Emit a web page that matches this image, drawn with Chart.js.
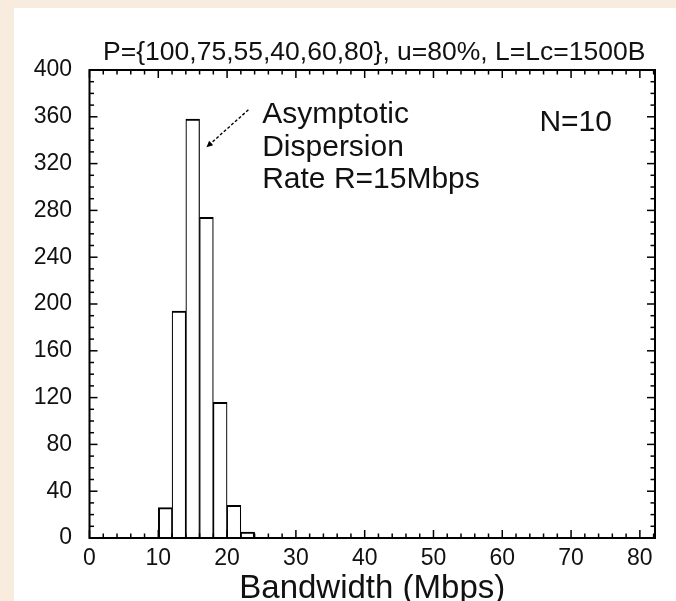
<!DOCTYPE html>
<html><head><meta charset="utf-8">
<script src="https://cdn.jsdelivr.net/npm/chart.js@4/dist/chart.umd.min.js"></script>
<style>
html,body{margin:0;padding:0;background:#F7ECDD;width:676px;height:601px;overflow:hidden}
#wrap{position:absolute;left:14px;top:8px;width:662px;height:593px;background:#fff}
canvas{display:block}
</style></head><body>
<div id="wrap"><canvas id="c" width="662" height="593"></canvas></div>
<script>
// ---- data ----
const binCenters = [11, 13, 15, 17, 19, 21, 23];          // Mbps, bins of width 2
const counts = [26, 194, 358, 274, 116, 28, 5];
const xTickValues = [0, 10, 20, 30, 40, 50, 60, 70, 80];
const yTickValues = [0, 40, 80, 120, 160, 200, 240, 280, 320, 360, 400];
const titleText = 'P={100,75,55,40,60,80}, u=80%, L=Lc=1500B';
const xAxisTitle = 'Bandwidth (Mbps)';
const noteLines = ['Asymptotic', 'Dispersion', 'Rate R=15Mbps'];
const nLabel = 'N=10';

// annotation anchors in data units
const arrowTail = {x: 23.1, y: 366};
const arrowTip = {x: 17.0, y: 334};
const noteAnchor = {x: 25.1, y: 354.5};
const nAnchor = {x: 65.4, y: 348};

const FONT = '"Liberation Sans", Arial, sans-serif';
const INK = '#111';

const decor = {
  id: 'decor',
  afterDatasetsDraw(chart) {
    const {ctx, chartArea: a, scales: {x, y}} = chart;
    ctx.save();
    ctx.strokeStyle = '#000';
    ctx.lineCap = 'butt';
    // frame
    ctx.lineWidth = 2;
    ctx.strokeRect(a.left, a.top, a.right - a.left, a.bottom - a.top);
    // ticks
    ctx.lineWidth = 1.5;
    const seg = (x1, y1, x2, y2) => { ctx.beginPath(); ctx.moveTo(x1, y1); ctx.lineTo(x2, y2); ctx.stroke(); };
    for (let v = 0; v <= 400; v += 10) {
      const py = y.getPixelForValue(v);
      const len = v % 40 === 0 ? 8 : 4.5;
      seg(a.left, py, a.left + len, py);
      seg(a.right, py, a.right - len, py);
    }
    for (let v = 0; v <= x.max; v += 2) {
      const px = x.getPixelForValue(v);
      const len = v % 10 === 0 ? 8 : 4.5;
      seg(px, a.bottom, px, a.bottom - len);
      seg(px, a.top, px, a.top + len);
    }
    // title
    ctx.fillStyle = INK;
    ctx.font = '26.5px ' + FONT;
    ctx.textAlign = 'center';
    ctx.textBaseline = 'alphabetic';
    ctx.fillText(titleText, (a.left + a.right) / 2 + 2, a.top - 10);
    // notes
    ctx.textAlign = 'left';
    ctx.font = '30px ' + FONT;
    const nx = x.getPixelForValue(noteAnchor.x);
    const ny = y.getPixelForValue(noteAnchor.y);
    noteLines.forEach((t, i) => ctx.fillText(t, nx, ny + i * 32.5));
    ctx.fillText(nLabel, x.getPixelForValue(nAnchor.x), y.getPixelForValue(nAnchor.y));
    // arrow
    const tx = x.getPixelForValue(arrowTail.x), ty = y.getPixelForValue(arrowTail.y);
    const hx = x.getPixelForValue(arrowTip.x), hy = y.getPixelForValue(arrowTip.y);
    const ang = Math.atan2(hy - ty, hx - tx);
    const hl = 7;
    ctx.lineWidth = 1.4;
    ctx.setLineDash([3, 2]);
    seg(tx, ty, hx - Math.cos(ang) * hl * 0.8, hy - Math.sin(ang) * hl * 0.8);
    ctx.setLineDash([]);
    ctx.beginPath();
    ctx.moveTo(hx, hy);
    ctx.lineTo(hx - hl * Math.cos(ang - 0.45), hy - hl * Math.sin(ang - 0.45));
    ctx.lineTo(hx - hl * Math.cos(ang + 0.45), hy - hl * Math.sin(ang + 0.45));
    ctx.closePath();
    ctx.fillStyle = '#000';
    ctx.fill();
    ctx.restore();
  }
};

const last = counts.length - 1;
new Chart(document.getElementById('c'), {
  type: 'bar',
  data: {
    datasets: [{
      data: binCenters.map((c, i) => ({x: c, y: counts[i]})),
      backgroundColor: '#fff',
      borderColor: '#000',
      borderWidth: (ctx) => ({top: 2, left: ctx.dataIndex === 0 ? 2 : 1.2, right: ctx.dataIndex === last ? 2 : 1.2, bottom: 0}),
      borderSkipped: 'start',
      barPercentage: 1,
      categoryPercentage: 1,
      grouped: false
    }]
  },
  options: {
    responsive: false,
    animation: false,
    devicePixelRatio: 1,
    layout: {padding: {top: 62, right: 21, left: 0, bottom: 0}},
    plugins: {legend: {display: false}, tooltip: {enabled: false}, title: {display: false}},
    scales: {
      x: {
        type: 'linear',
        min: 0,
        max: 82.2,
        offset: false,
        bounds: 'data',
        grid: {display: false, drawTicks: false, offset: false},
        border: {display: false},
        afterBuildTicks: (s) => { s.ticks = xTickValues.map(v => ({value: v})); },
        afterFit: (s) => { s.height = 63; },
        ticks: {font: {family: FONT, size: 23}, color: INK, padding: 7, maxRotation: 0, autoSkip: false},
        title: {display: true, text: xAxisTitle, font: {family: FONT, size: 33, lineHeight: 1}, color: INK, padding: {top: 0, bottom: -4}}
      },
      y: {
        type: 'linear',
        min: 0,
        max: 400,
        grid: {display: false, drawTicks: false},
        border: {display: false},
        afterBuildTicks: (s) => { s.ticks = yTickValues.map(v => ({value: v})); },
        afterFit: (s) => { s.width = 75.5; },
        ticks: {font: {family: FONT, size: 23}, color: INK, padding: 17.5}
      }
    }
  },
  plugins: [decor]
});
</script>
</body></html>
